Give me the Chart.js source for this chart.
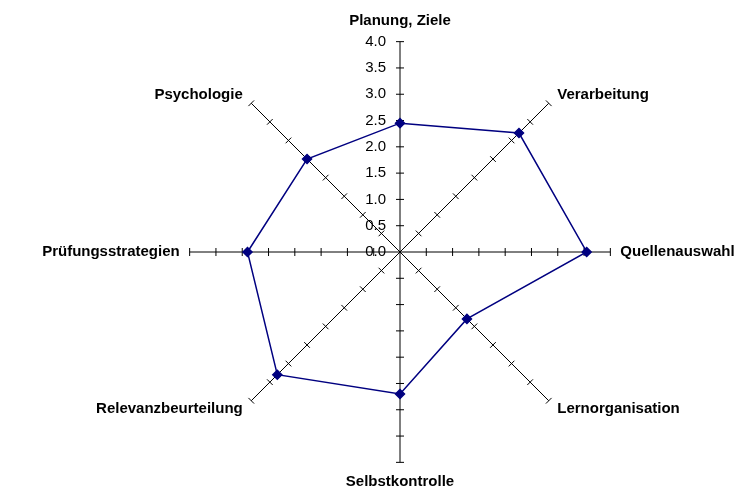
<!DOCTYPE html>
<html>
<head>
<meta charset="utf-8">
<script src="https://cdn.jsdelivr.net/npm/chart.js@4/dist/chart.umd.min.js"></script>
<style>
  html, body { margin: 0; padding: 0; background: #fff; }
  #wrap { width: 754px; height: 487px; position: relative; }
</style>
</head>
<body>
<div id="wrap"><canvas id="myChart"></canvas></div>
<script>
const categories = ["Planung, Ziele", "Verarbeitung", "Quellenauswahl", "Lernorganisation",
  "Selbstkontrolle", "Relevanzbeurteilung", "Prüfungsstrategien", "Psychologie"];
const values = [2.45, 3.2, 3.55, 1.8, 2.7, 3.3, 2.9, 2.5];
const tickValues = [0, 0.5, 1, 1.5, 2, 2.5, 3, 3.5, 4];

// label distance per axis (top, diagonals, sides, bottom)
const labelPad = [20.5, 12, 10, 12, 19, 12, 10, 12];

// Excel style: tick marks across every spoke + value labels left of the top spoke
const axisTicks = {
  id: "axisTicks",
  beforeDatasetsDraw(chart) {
    const scale = chart.scales.r;
    const ctx = chart.ctx;
    ctx.save();
    ctx.strokeStyle = "#000";
    ctx.lineWidth = 1;
    categories.forEach((c, i) => {
      tickValues.forEach((v) => {
        if (v === 0) return;
        const p = scale.getPointPosition(i, scale.getDistanceFromCenterForValue(v));
        const dx = -Math.sin(p.angle) * 4;
        const dy = Math.cos(p.angle) * 4;
        ctx.beginPath();
        ctx.moveTo(p.x - dx, p.y - dy);
        ctx.lineTo(p.x + dx, p.y + dy);
        ctx.stroke();
      });
    });
    ctx.fillStyle = "#000";
    ctx.font = "15px 'Liberation Sans', Arial, sans-serif";
    ctx.textAlign = "right";
    ctx.textBaseline = "middle";
    tickValues.forEach((v) => {
      const y = scale.yCenter - scale.getDistanceFromCenterForValue(v);
      ctx.fillText(v.toFixed(1), scale.xCenter - 14, y);
    });
    ctx.restore();
  },
};

let ctx = document.getElementById("myChart").getContext("2d");
let myChart = new Chart(ctx, {
  type: "radar",
  data: {
    labels: categories,
    datasets: [
      {
        label: "Werte",
        data: values,
        borderColor: "#000080",
        backgroundColor: "#000080",
        borderWidth: 1.5,
        fill: false,
        pointStyle: "rectRot",
        pointRadius: 4.5,
        pointBackgroundColor: "#000080",
        pointBorderColor: "#000080",
      },
    ],
  },
  options: {
    responsive: true,
    maintainAspectRatio: false,
    animation: false,
    layout: { padding: { left: 30, right: 0, top: 21, bottom: 4 } },
    plugins: {
      legend: { display: false },
      tooltip: { enabled: false },
    },
    scales: {
      r: {
        min: 0,
        max: 4,
        ticks: { stepSize: 0.5, display: false },
        grid: { display: false },
        angleLines: { display: true, color: "#000", lineWidth: 1 },
        pointLabels: {
          color: "#000",
          font: { family: "'Liberation Sans', Arial, sans-serif", size: 15, weight: "bold", lineHeight: 0.01 },
          padding: (c) => labelPad[c.index],
        },
      },
    },
  },
  plugins: [axisTicks],
});
</script>
</body>
</html>
